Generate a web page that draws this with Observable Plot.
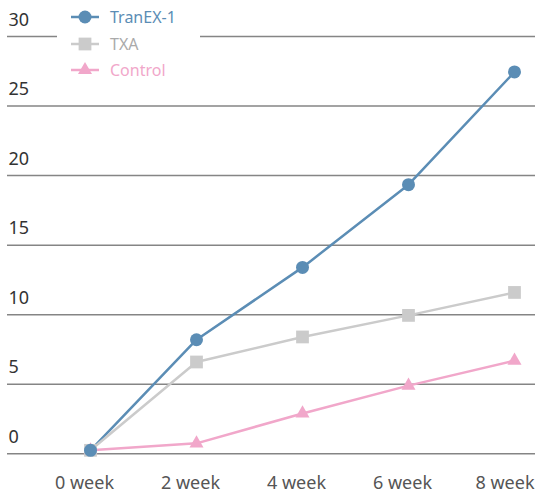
<!DOCTYPE html>
<html>
<head>
<meta charset="utf-8">
<script src="https://cdn.jsdelivr.net/npm/d3@7"></script>
<script src="https://cdn.jsdelivr.net/npm/@observablehq/plot@0.6"></script>
<style>
  html, body { margin: 0; padding: 0; background: #fff; }
  #wrap { position: relative; width: 535px; height: 494px; font-family: "Noto Sans", sans-serif; }
  #legend { position: absolute; left: 57px; top: 0; width: 143px; height: 84px; background: #fff; }
  .row { position: absolute; left: 0; height: 24px; display: flex; align-items: center; font-size: 16px; }
  .row svg { margin-left: 14px; margin-right: 11px; }
</style>
</head>
<body>
<div id="wrap"><div id="chart"></div><div id="legend"></div></div>
<script>
const weeks = ["0 week", "2 week", "4 week", "6 week", "8 week"];
const tranex = [0.25, 8.2, 13.4, 19.35, 27.45];
const txa = [0.25, 6.6, 8.4, 9.95, 11.6];
const control = [0.25, 0.75, 2.9, 4.9, 6.7];
const yTicks = [0, 5, 10, 15, 20, 25, 30];
const seriesNames = ["TranEX-1", "TXA", "Control"];
const colors = ["#5b8db5", "#cbcbcb", "#f1a7ca"];
const textColors = ["#5b8db5", "#aaaaaa", "#f1a7ca"];
const symbols = ["circle", "square", "triangle"];

const values = [tranex, txa, control];
const data = [];
seriesNames.forEach((s, i) => weeks.forEach((w, j) => data.push({series: s, week: w, value: values[i][j]})));

const byS = s => data.filter(d => d.series === s);
const marks = [
  Plot.ruleY(yTicks, {stroke: "#858585", strokeWidth: 1.5}),
  Plot.text(yTicks, {y: d => d, text: d => String(d), frameAnchor: "left", textAnchor: "start", lineAnchor: "bottom", dy: -11, dx: 1, fontSize: 18, fill: "#333"}),
  Plot.axisX(weeks.slice(0, 4), {tickSize: 0, tickPadding: 22, fontSize: 18, color: "#555", dx: -6}),
  Plot.axisX(weeks.slice(4), {tickSize: 0, tickPadding: 22, fontSize: 18, color: "#555", textAnchor: "end", dx: 20}),
];
[0, 1, 2].forEach(i => {
  marks.push(Plot.line(byS(seriesNames[i]), {x: "week", y: "value", stroke: colors[i], strokeWidth: 2.5}));
});
const rs = [6.5, 7.2, 5.2];
[2, 1, 0].forEach(i => {
  marks.push(Plot.dot(byS(seriesNames[i]), {x: "week", y: "value", fill: colors[i], symbol: symbols[i], r: rs[i]}));
});

const chart = Plot.plot({
  width: 535,
  height: 494,
  marginLeft: 7,
  marginRight: 0,
  marginTop: 36,
  marginBottom: 40.7,
  style: {fontFamily: "'Noto Sans', sans-serif", background: "#fff"},
  x: {type: "point", domain: weeks, range: [89.5, 513.5], padding: 0, label: null},
  y: {domain: [0, 30], range: [453.3, 36], axis: null},
  marks
});
document.getElementById("chart").appendChild(chart);

// legend
const legend = d3.select("#legend");
const rowTops = [5, 32, 58];
seriesNames.forEach((s, i) => {
  const row = legend.append("div").attr("class", "row").style("top", rowTops[i] + "px").style("color", textColors[i]);
  const svg = row.append("svg").attr("width", 28).attr("height", 24);
  svg.append("line").attr("x1", 0).attr("x2", 28).attr("y1", 12).attr("y2", 12).attr("stroke", colors[i]).attr("stroke-width", 2.5);
  svg.append("path").attr("transform", "translate(14,12)")
    .attr("d", d3.symbol(i === 0 ? d3.symbolCircle : i === 1 ? d3.symbolSquare : d3.symbolTriangle, Math.PI * rs[i] * rs[i])())
    .attr("fill", colors[i]);
  row.append("span").text(s);
});
</script>
</body>
</html>
